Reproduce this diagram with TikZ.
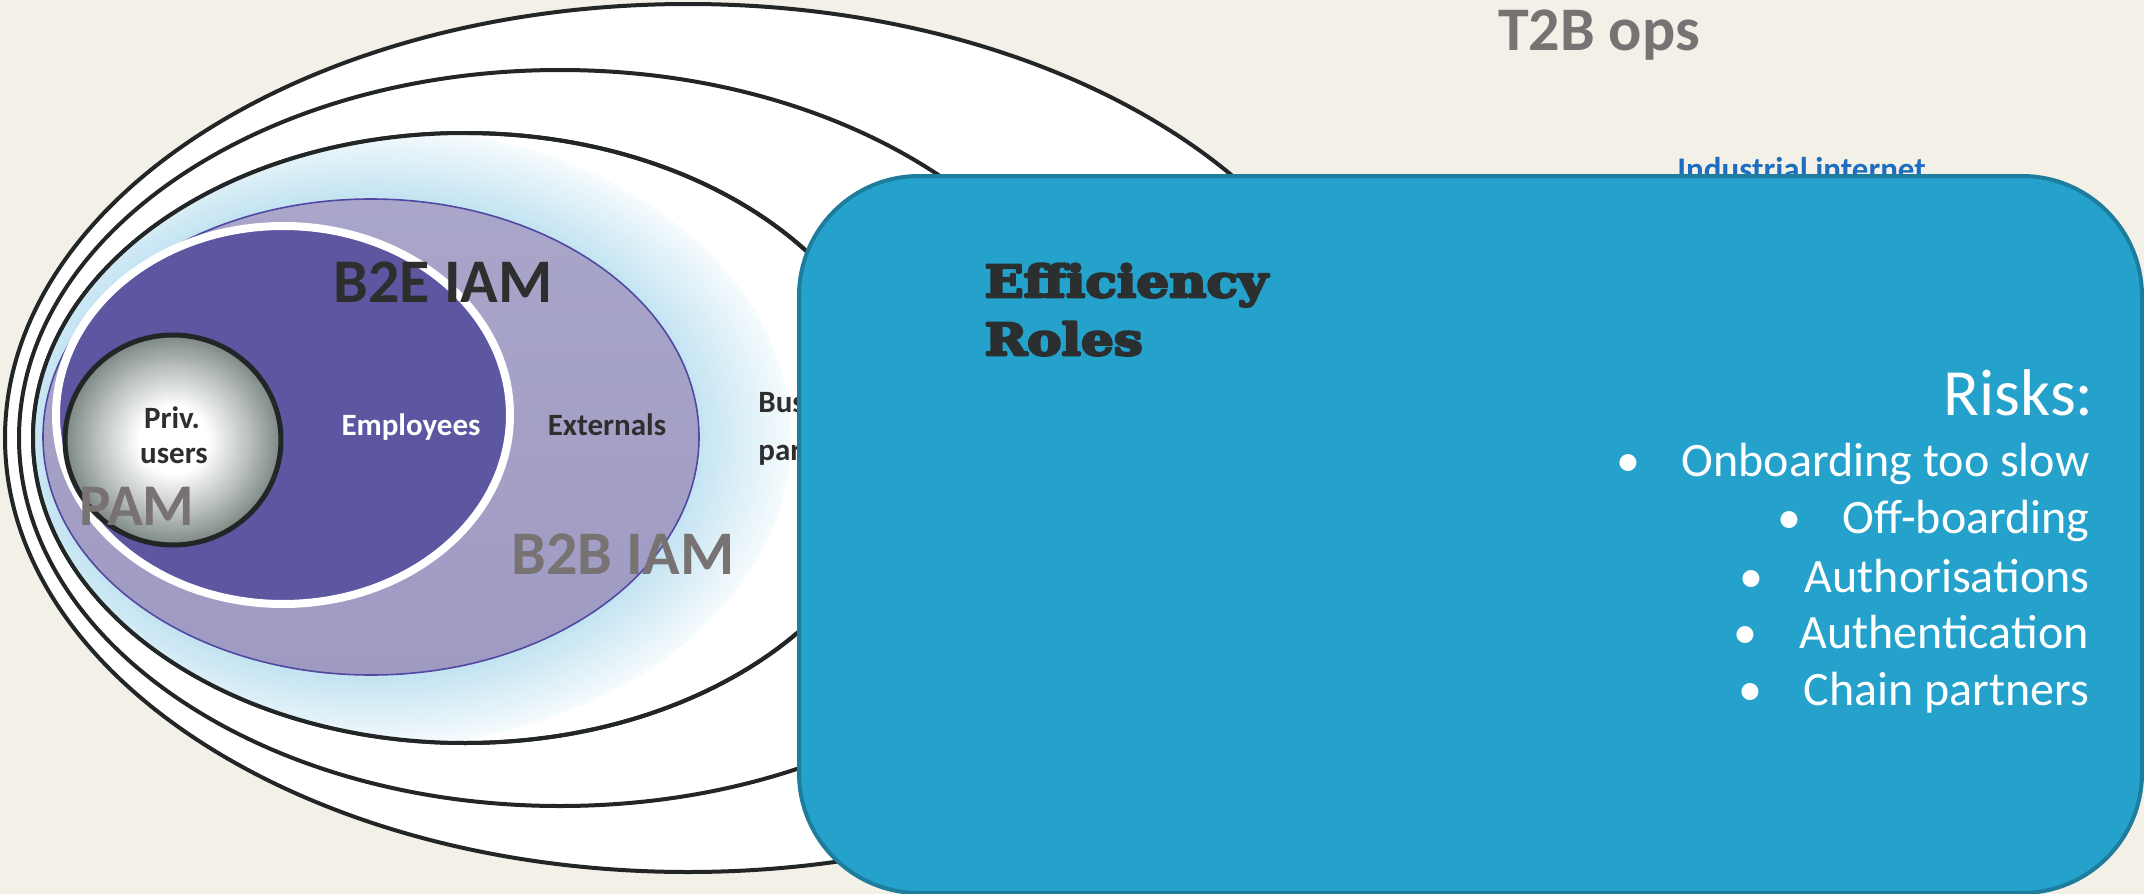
\documentclass[tikz,border=0pt]{standalone}
\usepackage{fontspec}
\setmainfont{Carlito}
\newfontfamily\slab[FakeStretch=1.17]{DejaVu Serif}
\usetikzlibrary{shapes.geometric}

% outline the glyphs as well as filling them, for an extra-heavy weight
\newcommand\heavyface[1]{\special{pdf:literal direct 1 j 2 Tr 1.3 w}#1\special{pdf:literal direct 0 Tr}}

\definecolor{paper}{HTML}{F3F0E8}
\definecolor{ink}{HTML}{232626}
\definecolor{halo}{HTML}{C4E4F2}
\definecolor{haloedge}{HTML}{F6FBFD}
\definecolor{lilac}{HTML}{A9A6CA}
\definecolor{lilacdark}{HTML}{9F9AC2}
\definecolor{lilacline}{HTML}{5048A2}
\definecolor{violet}{HTML}{5D56A0}
\definecolor{steel}{HTML}{7C8884}
\definecolor{greytext}{HTML}{787372}
\definecolor{darktext}{HTML}{2E2E2E}
\definecolor{panelfill}{HTML}{24A2CB}
\definecolor{panelline}{HTML}{1E7C9D}
\definecolor{linkblue}{HTML}{1F6DC0}
\definecolor{slabink}{HTML}{2B2F30}

% soft ring of light blue around the B2B ellipse (path rim sits at 25bp)
\pgfdeclareradialshading{haloshade}{\pgfpointorigin}{%
  color(0bp)=(halo); color(19.5bp)=(halo); color(25bp)=(haloedge); color(50bp)=(haloedge)}
% pale centre fading to grey-green at the rim
\pgfdeclareradialshading{privshade}{\pgfpointorigin}{%
  color(0bp)=(white); color(8bp)=(white); color(17bp)=(steel!50!white); color(25bp)=(steel); color(50bp)=(steel)}

\begin{document}
\begin{tikzpicture}[x=0.5pt,y=-0.5pt,
  ring/.style={ellipse, draw=ink, line width=2pt, fill=white, inner sep=0},
  txt/.style={inner sep=0, anchor=base},
  bigtag/.style={txt, font=\bfseries\fontsize{31}{36}\selectfont},
  small/.style={txt, font=\bfseries\fontsize{15.5}{18}\selectfont},
  item/.style={inner sep=0, anchor=base east, text=white, font=\fontsize{24}{28}\selectfont},
  dot/.style={inner sep=0, anchor=base, text=white, font=\fontsize{24}{28}\selectfont},
  slabtag/.style={txt, anchor=base west, text=slabink, font=\slab\bfseries\fontsize{22}{26}\selectfont}]

\useasboundingbox (0,0) rectangle (2144,894);
\fill[paper] (0,0) rectangle (2144,894);

% nested outer scopes
\node[ring, minimum width=683pt, minimum height=434pt] (scope1) at (688,438) {};
\node[ring, minimum width=541pt, minimum height=368pt] (scope2) at (560,438) {};
\node[ring, minimum width=432pt, minimum height=305pt] (scope3) at (465,438) {};

% glow inside the third scope
\begin{scope}
  \clip (scope3.center) ellipse [x radius=216pt, y radius=152.5pt];
  \shade[shading=haloshade] (371,437) ellipse [x radius=210pt, y radius=155pt];
\end{scope}
\draw[ink, line width=2pt] (scope3.center) ellipse [x radius=216pt, y radius=152.5pt];

% B2B, B2E and privileged users
\node[ellipse, draw=lilacline, line width=0.8pt, top color=lilac, bottom color=lilacdark,
      minimum width=328pt, minimum height=238pt, inner sep=0] (b2b) at (371,437) {};
\node[ellipse, draw=white, line width=4pt, fill=violet,
      minimum width=227pt, minimum height=189pt, inner sep=0] (b2e) at (283,415) {};
\node[ellipse, draw=ink, line width=2.5pt, shading=privshade,
      minimum width=108pt, minimum height=105pt, inner sep=0] (priv) at (173,440) {};

% labels of the circles
\node[small, text=darktext] (privA) at (172,428) {Priv.};
\node[small, text=darktext] (privB) at (174,463) {users};
\node[small, text=white] (emp) at (411,435) {Employees};
\node[small, text=darktext] (ext) at (607,435) {Externals};
\node[small, text=darktext, anchor=base west] (busA) at (758,412) {Business};
\node[small, text=darktext, anchor=base west] (busB) at (758,460) {partners};

\node[bigtag, text=darktext] (b2elab) at (443,302) {B2E IAM};
\node[bigtag, text=greytext, font=\bfseries\fontsize{29.5}{34}\selectfont] (pam) at (137,525) {PAM};
\node[bigtag, text=greytext] (b2blab) at (623,574) {B2B IAM};
\node[bigtag, text=greytext] (t2b) at (1599,50) {T2B ops};
\node[txt, anchor=base west, text=linkblue, font=\bfseries\fontsize{16.5}{19}\selectfont] (iot) at (1677,180) {Industrial internet};

% the blue panel
\node[draw=panelline, line width=2pt, fill=panelfill, rounded corners=60pt,
      minimum width=671.5pt, minimum height=358.5pt, anchor=north west, inner sep=0] (panel) at (797,174) {};

\node[slabtag] (eff) at (984,297) {\heavyface{Efficiency}};
\node[slabtag] (roles) at (984,355) {\heavyface{Roles}};

\node[item, font=\fontsize{33}{38}\selectfont] (risks) at (2094,415) {Risks:};
\node[item] (r1) at (2090,476) {Onboarding too slow};
\node[item] (r2) at (2090,533) {Off-boarding};
\node[item] (r3) at (2090,592) {Authorisations};
\node[item] (r4) at (2089,648) {Authentication};
\node[item] (r5) at (2090,705) {Chain partners};
\foreach \r in {r1,r2,r3,r4,r5}
  \node[dot] (\r dot) at ([xshift=-26.5pt]\r.base west) {•};
\end{tikzpicture}
\end{document}
